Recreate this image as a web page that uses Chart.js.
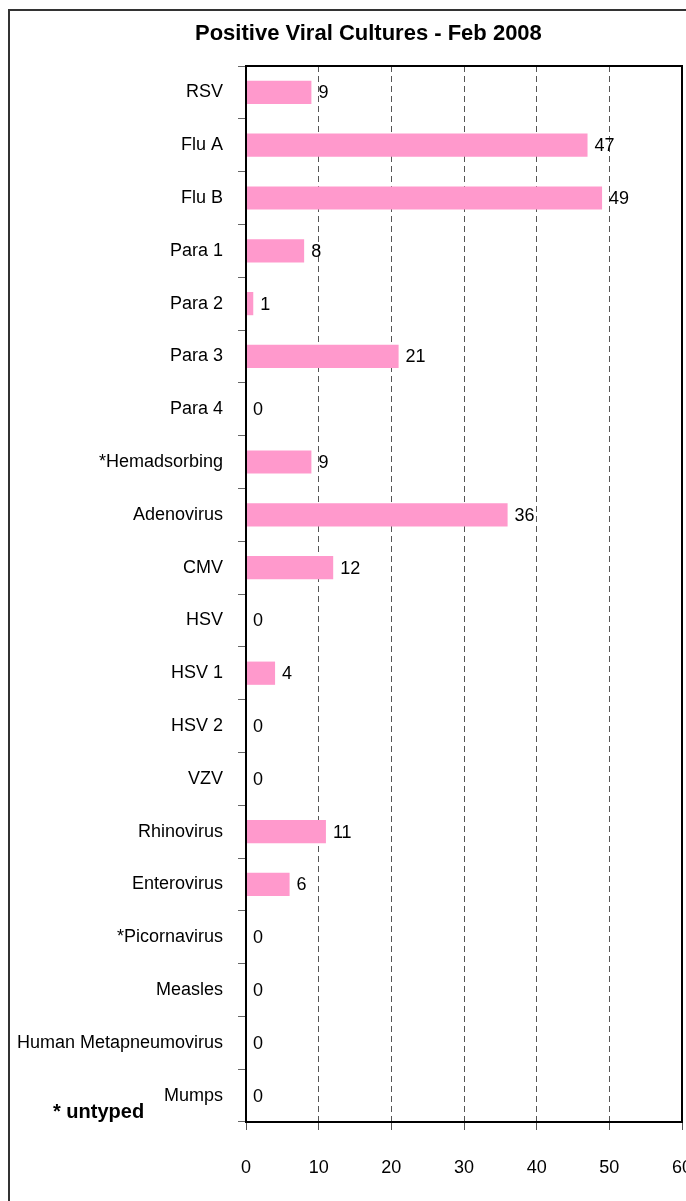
<!DOCTYPE html>
<html>
<head>
<meta charset="utf-8">
<title>Positive Viral Cultures - Feb 2008</title>
<script src="https://cdn.jsdelivr.net/npm/chart.js@4.4.1/dist/chart.umd.min.js"></script>
<style>
  html, body { margin: 0; padding: 0; background: #fff; overflow: hidden; }
  canvas { display: block; }
</style>
</head>
<body>
<canvas id="cultureChart" width="686" height="1201"></canvas>
<script>
// Chart data
const categories = [
  "RSV", "Flu A", "Flu B", "Para 1", "Para 2", "Para 3", "Para 4",
  "*Hemadsorbing", "Adenovirus", "CMV", "HSV", "HSV 1", "HSV 2", "VZV",
  "Rhinovirus", "Enterovirus", "*Picornavirus", "Measles",
  "Human Metapneumovirus", "Mumps"
];
const positives = [9, 47, 49, 8, 1, 21, 0, 9, 36, 12, 0, 4, 0, 0, 11, 6, 0, 0, 0, 0];
const xTickMin = 0;
const xTickMax = 60;
const xTickStep = 10;
const chartTitle = "Positive Viral Cultures - Feb 2008";
const footNote = "* untyped";

const FONT = "'Liberation Sans', Arial, sans-serif";

// Title, footnote, frame and value labels
const decorations = {
  id: "decorations",
  beforeDraw(chart) {
    const c = chart.ctx;
    c.save();
    c.strokeStyle = "#333";
    c.lineWidth = 2;
    c.strokeRect(9, 10, 720, 1240);
    c.restore();
  },
  afterDatasetsDraw(chart) {
    const c = chart.ctx;
    const meta = chart.getDatasetMeta(0);
    c.save();
    c.fillStyle = "#000";
    c.font = "18px " + FONT;
    c.textAlign = "left";
    c.textBaseline = "middle";
    meta.data.forEach((bar, i) => {
      c.fillText(String(positives[i]), bar.x + 7, bar.y + 1);
    });
    c.restore();
  },
  afterDraw(chart) {
    const c = chart.ctx;
    const a = chart.chartArea;
    c.save();
    // plot frame
    c.strokeStyle = "#000";
    c.lineWidth = 2;
    c.beginPath();
    c.moveTo(a.left, a.top);
    c.lineTo(a.right, a.top);
    c.lineTo(a.right, a.bottom);
    c.lineTo(a.left, a.bottom);
    c.closePath();
    c.stroke();

    c.fillStyle = "#000";
    c.font = "bold 22px " + FONT;
    c.textAlign = "left";
    c.textBaseline = "alphabetic";
    c.fillText(chartTitle, 195, 40);

    c.font = "bold 20px " + FONT;
    c.fillText(footNote, 53, 1118);
    c.restore();
  }
};

// Chart Setup
const ctx = document.getElementById("cultureChart");

const chart = new Chart(ctx, {
  type: "bar",
  data: {
    labels: categories,
    datasets: [{
      label: "Positive cultures",
      data: positives,
      backgroundColor: "#FF99CC",
      borderWidth: 0,
      categoryPercentage: 1,
      barPercentage: 0.44
    }]
  },
  options: {
    indexAxis: "y",
    responsive: false,
    animation: false,
    layout: { padding: { top: 66, right: 4, left: 0, bottom: 0 } },
    plugins: {
      legend: { display: false },
      tooltip: { enabled: false },
      title: { display: false }
    },
    scales: {
      x: {
        min: xTickMin,
        max: xTickMax,
        ticks: {
          stepSize: xTickStep,
          color: "#000",
          padding: 27,
          font: { family: FONT, size: 18 }
        },
        grid: {
          color: (c) => (c.tick && (c.tick.value === xTickMin || c.tick.value === xTickMax)) ? "rgba(0,0,0,0)" : "#555",
          tickColor: "#555",
          tickLength: 8,
          lineWidth: 1
        },
        border: { display: false, dash: [6, 4] },
        afterFit(scale) {
          scale.height = 79;
          scale.paddingLeft = 0;
          scale.paddingRight = 0;
        }
      },
      y: {
        ticks: {
          color: "#000",
          padding: 15,
          autoSkip: false,
          font: { family: FONT, size: 18 }
        },
        grid: {
          offset: true,
          drawOnChartArea: false,
          tickColor: "#666",
          tickLength: 8
        },
        border: { display: false },
        afterFit(scale) {
          scale.width = 246;
          scale.paddingTop = 0;
          scale.paddingBottom = 0;
        }
      }
    }
  },
  plugins: [decorations]
});
</script>
</body>
</html>
